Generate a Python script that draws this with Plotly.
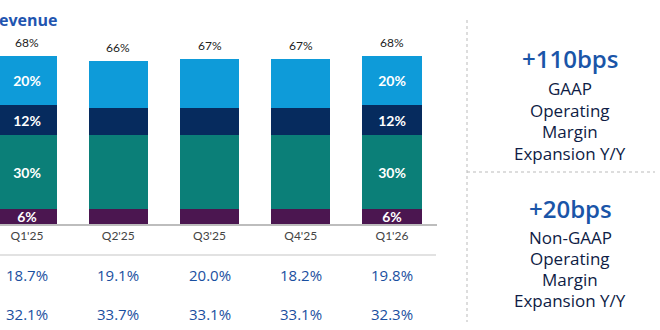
import plotly.graph_objects as go

quarters = ["Q1'25", "Q2'25", "Q3'25", "Q4'25", "Q1'26"]
seg_purple = [6, 6, 6, 6, 6]
seg_teal = [30, 30, 30, 30, 30]
seg_navy = [12, 11, 11, 11, 12]
seg_light = [20, 19, 20, 20, 20]
totals = [68, 66, 67, 67, 68]
labeled = [True, False, False, False, True]
gaap_margin = ["18.7%", "19.1%", "20.0%", "18.2%", "19.8%"]
nongaap_margin = ["32.1%", "33.7%", "33.1%", "33.1%", "32.3%"]

W, H = 660, 330
xs = list(range(len(quarters)))

def py(p):  # pixel from top -> paper y
    return (H - p) / H

def px(p):
    return p / W

colors = {"purple": "#4B1650", "teal": "#0B7F78", "navy": "#062B5E", "light": "#0E9BD9"}
segs = [("purple", seg_purple), ("teal", seg_teal), ("navy", seg_navy), ("light", seg_light)]

fig = go.Figure()
for name, vals in segs:
    fig.add_trace(go.Bar(
        x=xs, y=vals, name=name, width=0.647,
        marker=dict(color=colors[name], line=dict(width=0)),
        text=[f"{v}%" if l else "" for v, l in zip(vals, labeled)],
        textposition="inside", insidetextanchor="middle",
        textfont=dict(color="white", size=14, family="Lato", weight="bold"),
        textangle=0, constraintext="none",
        hoverinfo="skip",
    ))

ann = []
for i, t in enumerate(totals):
    ann.append(dict(x=i, y=t, xref="x", yref="y", text=f"{t}%", showarrow=False,
                    xanchor="center", yanchor="bottom", yshift=4,
                    font=dict(size=12, color="#222", family="Lato")))
for i, (g, n) in enumerate(zip(gaap_margin, nongaap_margin)):
    ann.append(dict(x=i, y=py(275), xref="x", yref="paper", text=g, showarrow=False,
                    xanchor="center", yanchor="middle",
                    font=dict(size=15, color="#1A4FA0", family="Open Sans", weight=500)))
    ann.append(dict(x=i, y=py(314), xref="x", yref="paper", text=n, showarrow=False,
                    xanchor="center", yanchor="middle",
                    font=dict(size=15, color="#1A4FA0", family="Open Sans", weight=500)))

ann.append(dict(x=0, y=py(20), xref="paper", yref="paper", text="<b>evenue</b>", showarrow=False,
                xanchor="left", yanchor="middle", xshift=-3,
                font=dict(size=16, color="#1F55B0", family="Open Sans")))

cx = px(570)
big = dict(size=24, color="#1A55A8", family="Open Sans", weight=600)
small = dict(size=17, color="#0E1C45", family="Open Sans", weight=500)
ann.append(dict(x=cx, y=py(58), xref="paper", yref="paper", text="+110bps", showarrow=False,
                xanchor="center", yanchor="middle", borderpad=0, font=big))
for y, t in zip([89, 110, 131, 153], ["GAAP", "Operating", "Margin", "Expansion Y/Y"]):
    ann.append(dict(x=cx, y=py(y), xref="paper", yref="paper", text=t, showarrow=False,
                    xanchor="center", yanchor="middle", borderpad=0, font=small))
ann.append(dict(x=cx, y=py(208), xref="paper", yref="paper", text="+20bps", showarrow=False,
                xanchor="center", yanchor="middle", borderpad=0, font=big))
for y, t in zip([237, 258, 279, 300], ["Non-GAAP", "Operating", "Margin", "Expansion Y/Y"]):
    ann.append(dict(x=cx, y=py(y), xref="paper", yref="paper", text=t, showarrow=False,
                    xanchor="center", yanchor="middle", borderpad=0, font=small))

shapes = [
    dict(type="line", xref="paper", yref="paper", x0=0, x1=px(436), y0=py(255), y1=py(255),
         line=dict(color="#E2E2E2", width=2)),
    dict(type="line", xref="paper", yref="paper", x0=px(467), x1=px(467), y0=py(20), y1=py(322),
         line=dict(color="#BBBBBB", width=1, dash="dot")),
    dict(type="line", xref="paper", yref="paper", x0=px(467), x1=px(655), y0=py(172), y1=py(172),
         line=dict(color="#BBBBBB", width=1, dash="dot")),
]

base = 224
scale = 2.47
fig.update_layout(
    width=W, height=H, margin=dict(l=0, r=0, t=0, b=0),
    paper_bgcolor="white", plot_bgcolor="white",
    barmode="stack", bargap=0, showlegend=False,
    uniformtext=dict(mode=False),
    annotations=ann, shapes=shapes,
    xaxis=dict(domain=[0, px(437)], range=[-27 / 91.25, (437 - 27) / 91.25],
               tickmode="array", tickvals=xs, ticktext=quarters,
               showline=True, linecolor="#BDBDBD", linewidth=2, ticks="",
               showgrid=False, zeroline=False,
               tickfont=dict(size=12, color="#444", family="Lato")),
    yaxis=dict(domain=[py(base), 1], range=[0, base / scale], visible=False,
               showgrid=False, zeroline=False),
)

fig.write_html("out.html")
